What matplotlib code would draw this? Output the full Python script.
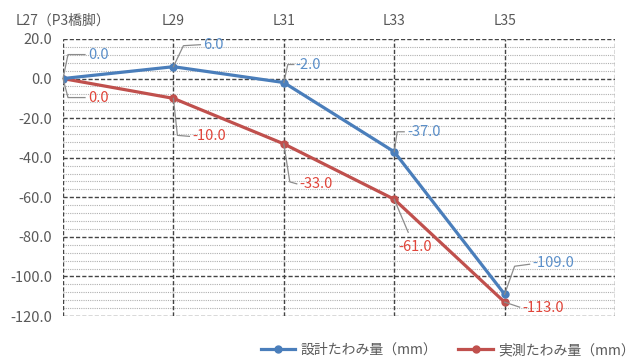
import matplotlib
matplotlib.use("Agg")
import matplotlib.pyplot as plt
from matplotlib.transforms import ScaledTranslation

plt.rcParams['font.family'] = ['Noto Sans CJK JP', 'DejaVu Sans']

categories = ["L27（P3橋脚）", "L29", "L31", "L33", "L35"]
design = [0.0, 6.0, -2.0, -37.0, -109.0]
measured = [0.0, -10.0, -33.0, -61.0, -113.0]
design_name = "設計たわみ量（mm）"
measured_name = "実測たわみ量（mm）"

blue = "#4a7ebb"
red = "#c0504d"
label_blue = "#5b8fc9"
label_red = "#e0453a"
tick_color = "#595959"

DPI = 100
fig = plt.figure(figsize=(6.42, 3.61), dpi=DPI)
ax = fig.add_axes([63/642, 1-316/361, (615-63)/642, (316-39)/361])

x = list(range(len(categories)))
ax.set_xlim(0, len(categories))
ax.set_ylim(-120, 20)

for v in range(-120, 21, 4):
    if v % 20 == 0:
        ax.axhline(v, color="#444444", lw=1.0, ls=(0, (3, 1.5)), zorder=1)
    else:
        ax.axhline(v, color="#b0b0b0", lw=0.8, ls=(0, (1, 1)), zorder=1)
for xv in range(len(categories) + 1):
    ax.axvline(xv, color="#444444", lw=1.0, ls=(0, (3, 1.5)), zorder=1)

ax.plot(x, design, color=blue, lw=2.3, marker='o', ms=5, label=design_name, zorder=4)
ax.plot(x, measured, color=red, lw=2.3, marker='o', ms=5, label=measured_name, zorder=3)

for s in ax.spines.values():
    s.set_visible(False)

ax.set_xticks(x)
ax.set_xticklabels(categories)
ax.xaxis.tick_top()
ax.tick_params(axis='x', length=0, pad=8, labelsize=10, colors=tick_color)
ax.tick_params(axis='y', which='both', length=0, pad=8, labelsize=10.5, colors=tick_color)
ax.set_yticks(range(-120, 21, 20))
ax.set_yticklabels([f"{v:.1f}" for v in range(-120, 21, 20)])

# label layout: text left anchor offset (px) and leader path (px), relative to point
design_layout = [
    ((25, 24), [(0, 0), (5, 24), (22, 24)]),
    ((30, 22), [(0, 0), (10, 21), (27, 22)]),
    ((12, 18), [(0, 0), (4, 18), (10, 18)]),
    ((13, 20), [(0, 0), (3, 20), (10, 20)]),
    ((28, 31), [(0, 0), (10, 28), (25, 30)]),
]
measured_layout = [
    ((25, -19), [(0, 0), (5, -19), (22, -19)]),
    ((19, -38), [(0, 0), (4, -37), (16, -38)]),
    ((16, -40), [(0, 0), (6, -38), (13, -40)]),
    ((4, -48), [(0, 0), (14, -33)]),
    ((18, -6), [(0, 0), (15, -5)]),
]

def label(vals, layout, color):
    for xi, (v, ((tx, ty), path)) in enumerate(zip(vals, layout)):
        off = ScaledTranslation(tx / DPI, ty / DPI, fig.dpi_scale_trans)
        ax.text(xi, v, f"{v:.1f}", transform=ax.transData + off, ha='left', va='center',
                fontsize=10.5, color=color, zorder=6)
        x0, y0 = ax.transData.transform((xi, v))
        xs = [x0 + p[0] for p in path]
        ys = [y0 + p[1] for p in path]
        pts = ax.transData.inverted().transform(list(zip(xs, ys)))
        ax.plot(pts[:, 0], pts[:, 1], color='#8c8c8c', lw=0.9, zorder=5, clip_on=False)

label(design, design_layout, label_blue)
label(measured, measured_layout, label_red)

leg = fig.legend(loc='center', bbox_to_anchor=(448/642, 1-350/361), ncol=2, frameon=False,
                 fontsize=10, handlelength=2.5, columnspacing=1.5, handletextpad=0.4)
for t in leg.get_texts():
    t.set_color(tick_color)

fig.savefig("out.png", dpi=DPI)
